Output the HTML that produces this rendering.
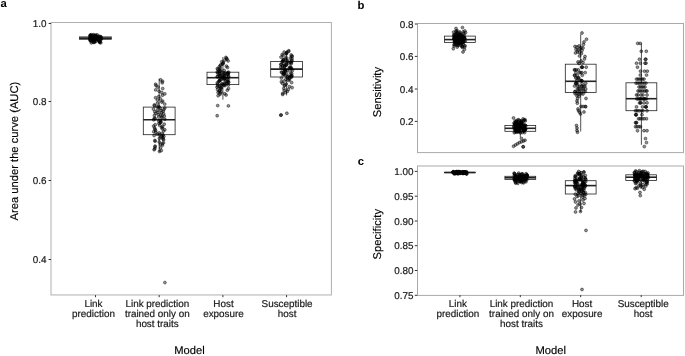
<!DOCTYPE html>
<html><head><meta charset="utf-8"><title>Figure</title>
<style>
html,body{margin:0;padding:0;background:#fff;}
svg{display:block;text-rendering:geometricPrecision;filter:grayscale(1);font-family:"Liberation Sans",Arial,Helvetica,sans-serif;}
.pb{fill:none;stroke:#a9a9a9;stroke-width:1;}
.pa{stroke:#b0b0b0;}
.tk{font-size:9.9px;fill:#1a1a1a;stroke:#1a1a1a;stroke-width:0.2px;}
.ti{font-size:11.2px;fill:#000;stroke:#000;stroke-width:0.15px;}
.pl{font-size:11.3px;font-weight:bold;fill:#000;}
.ticks line{stroke:#333;stroke-width:1;}
.boxes rect{fill:none;stroke:#222;stroke-width:0.8;}
.boxes line{stroke:#222;stroke-width:0.8;}
.boxes line.med{stroke-width:1.6;}
.pts circle{fill:rgba(0,0,0,0.42);stroke:rgba(0,0,0,0.75);stroke-width:0.6;}
</style></head>
<body>
<svg width="685" height="356" viewBox="0 0 685 356">
<rect width="685" height="356" fill="#fff"/>
<g class="panels"><rect class="pb pa" x="51.0" y="22.5" width="280.4" height="272.45"/><rect class="pb" x="417.5" y="23.5" width="266.0" height="129.1"/><rect class="pb" x="417.5" y="166.0" width="266.0" height="129.39999999999998"/></g>
<g class="ticks"><line x1="48.6" y1="23.5" x2="51.1" y2="23.5"/><line x1="48.6" y1="101.5" x2="51.1" y2="101.5"/><line x1="48.6" y1="180.5" x2="51.1" y2="180.5"/><line x1="48.6" y1="259.5" x2="51.1" y2="259.5"/><line x1="414.8" y1="24.0" x2="417.3" y2="24.0"/><line x1="414.8" y1="56.4" x2="417.3" y2="56.4"/><line x1="414.8" y1="89.0" x2="417.3" y2="89.0"/><line x1="414.8" y1="121.4" x2="417.3" y2="121.4"/><line x1="414.8" y1="171.4" x2="417.3" y2="171.4"/><line x1="414.8" y1="196.2" x2="417.3" y2="196.2"/><line x1="414.8" y1="221.0" x2="417.3" y2="221.0"/><line x1="414.8" y1="245.7" x2="417.3" y2="245.7"/><line x1="414.8" y1="270.5" x2="417.3" y2="270.5"/><line x1="414.8" y1="295.3" x2="417.3" y2="295.3"/><line x1="95.5" y1="295.1" x2="95.5" y2="297.2"/><line x1="159.2" y1="295.1" x2="159.2" y2="297.2"/><line x1="222.9" y1="295.1" x2="222.9" y2="297.2"/><line x1="286.6" y1="295.1" x2="286.6" y2="297.2"/><line x1="459.9" y1="295.1" x2="459.9" y2="297.2"/><line x1="520.3" y1="295.1" x2="520.3" y2="297.2"/><line x1="580.7" y1="295.1" x2="580.7" y2="297.2"/><line x1="641.2" y1="295.1" x2="641.2" y2="297.2"/></g>
<g class="boxes"><line x1="95.5" y1="36.0" x2="95.5" y2="36.9"/><line x1="95.5" y1="39.3" x2="95.5" y2="41.0"/><rect x="79.5" y="36.9" width="31.8" height="2.4"/><line class="med" x1="79.5" y1="38.1" x2="111.3" y2="38.1"/><line x1="159.2" y1="79.0" x2="159.2" y2="107.1"/><line x1="159.2" y1="134.7" x2="159.2" y2="152.0"/><rect x="143.3" y="107.1" width="31.8" height="27.6"/><line class="med" x1="143.3" y1="119.8" x2="175.1" y2="119.8"/><line x1="222.9" y1="57.0" x2="222.9" y2="72.2"/><line x1="222.9" y1="84.6" x2="222.9" y2="99.7"/><rect x="207.0" y="72.2" width="31.8" height="12.4"/><line class="med" x1="207.0" y1="77.7" x2="238.8" y2="77.7"/><line x1="286.6" y1="50.5" x2="286.6" y2="61.5"/><line x1="286.6" y1="77.0" x2="286.6" y2="95.4"/><rect x="270.7" y="61.5" width="31.8" height="15.5"/><line class="med" x1="270.7" y1="69.1" x2="302.5" y2="69.1"/><line x1="459.9" y1="30.0" x2="459.9" y2="36.1"/><line x1="459.9" y1="42.4" x2="459.9" y2="47.0"/><rect x="444.5" y="36.1" width="30.8" height="6.3"/><line class="med" x1="444.5" y1="39.6" x2="475.3" y2="39.6"/><line x1="520.3" y1="119.0" x2="520.3" y2="125.4"/><line x1="520.3" y1="131.3" x2="520.3" y2="137.3"/><rect x="504.9" y="125.4" width="30.8" height="5.9"/><line class="med" x1="504.9" y1="128.3" x2="535.7" y2="128.3"/><line x1="580.7" y1="34.3" x2="580.7" y2="64.2"/><line x1="580.7" y1="92.5" x2="580.7" y2="131.5"/><rect x="565.3" y="64.2" width="30.8" height="28.3"/><line class="med" x1="565.3" y1="81.3" x2="596.1" y2="81.3"/><line x1="641.4" y1="43.3" x2="641.4" y2="82.8"/><line x1="641.4" y1="110.7" x2="641.4" y2="144.8"/><rect x="626.0" y="82.8" width="30.8" height="27.9"/><line class="med" x1="626.0" y1="98.7" x2="656.8" y2="98.7"/><line x1="459.9" y1="172.2" x2="459.9" y2="172.3"/><line x1="459.9" y1="172.7" x2="459.9" y2="172.8"/><rect x="444.5" y="172.3" width="30.8" height="0.4"/><line class="med" x1="444.5" y1="172.5" x2="475.3" y2="172.5"/><line x1="520.3" y1="173.0" x2="520.3" y2="176.3"/><line x1="520.3" y1="179.5" x2="520.3" y2="183.0"/><rect x="504.9" y="176.3" width="30.8" height="3.2"/><line class="med" x1="504.9" y1="177.8" x2="535.7" y2="177.8"/><line x1="580.7" y1="171.0" x2="580.7" y2="180.7"/><line x1="580.7" y1="194.0" x2="580.7" y2="211.9"/><rect x="565.3" y="180.7" width="30.8" height="13.3"/><line class="med" x1="565.3" y1="185.6" x2="596.1" y2="185.6"/><line x1="641.2" y1="170.6" x2="641.2" y2="174.8"/><line x1="641.2" y1="180.5" x2="641.2" y2="189.0"/><rect x="625.8" y="174.8" width="30.8" height="5.7"/><line class="med" x1="625.8" y1="177.2" x2="656.6" y2="177.2"/></g>
<g class="pts"><circle cx="96.3" cy="38.1" r="1.45"/><circle cx="95.7" cy="38.2" r="1.45"/><circle cx="92.0" cy="37.7" r="1.45"/><circle cx="94.6" cy="37.8" r="1.45"/><circle cx="96.0" cy="37.6" r="1.45"/><circle cx="97.2" cy="34.9" r="1.45"/><circle cx="100.6" cy="36.7" r="1.45"/><circle cx="95.0" cy="39.9" r="1.45"/><circle cx="98.1" cy="38.2" r="1.45"/><circle cx="91.1" cy="36.3" r="1.45"/><circle cx="90.3" cy="40.2" r="1.45"/><circle cx="99.1" cy="37.4" r="1.45"/><circle cx="99.8" cy="41.0" r="1.45"/><circle cx="91.0" cy="37.3" r="1.45"/><circle cx="94.6" cy="36.1" r="1.45"/><circle cx="96.5" cy="38.9" r="1.45"/><circle cx="96.0" cy="41.4" r="1.45"/><circle cx="90.7" cy="36.0" r="1.45"/><circle cx="90.4" cy="39.2" r="1.45"/><circle cx="94.2" cy="40.8" r="1.45"/><circle cx="97.4" cy="38.6" r="1.45"/><circle cx="97.8" cy="38.0" r="1.45"/><circle cx="96.4" cy="38.9" r="1.45"/><circle cx="98.9" cy="38.0" r="1.45"/><circle cx="92.2" cy="36.5" r="1.45"/><circle cx="99.4" cy="39.0" r="1.45"/><circle cx="91.7" cy="37.4" r="1.45"/><circle cx="90.5" cy="35.9" r="1.45"/><circle cx="92.5" cy="38.1" r="1.45"/><circle cx="96.3" cy="38.7" r="1.45"/><circle cx="93.0" cy="38.3" r="1.45"/><circle cx="93.9" cy="35.3" r="1.45"/><circle cx="100.8" cy="42.7" r="1.45"/><circle cx="91.4" cy="38.5" r="1.45"/><circle cx="93.8" cy="42.4" r="1.45"/><circle cx="94.5" cy="42.2" r="1.45"/><circle cx="94.0" cy="37.6" r="1.45"/><circle cx="93.1" cy="38.0" r="1.45"/><circle cx="99.7" cy="41.9" r="1.45"/><circle cx="97.1" cy="37.5" r="1.45"/><circle cx="94.5" cy="38.4" r="1.45"/><circle cx="99.8" cy="38.8" r="1.45"/><circle cx="91.4" cy="42.9" r="1.45"/><circle cx="91.6" cy="40.0" r="1.45"/><circle cx="91.0" cy="40.1" r="1.45"/><circle cx="95.3" cy="38.5" r="1.45"/><circle cx="100.6" cy="39.1" r="1.45"/><circle cx="97.4" cy="39.2" r="1.45"/><circle cx="94.1" cy="39.5" r="1.45"/><circle cx="95.9" cy="35.2" r="1.45"/><circle cx="92.9" cy="42.1" r="1.45"/><circle cx="96.4" cy="37.9" r="1.45"/><circle cx="99.9" cy="41.6" r="1.45"/><circle cx="97.4" cy="39.6" r="1.45"/><circle cx="90.3" cy="37.7" r="1.45"/><circle cx="94.7" cy="35.8" r="1.45"/><circle cx="94.9" cy="41.3" r="1.45"/><circle cx="90.6" cy="41.1" r="1.45"/><circle cx="98.6" cy="40.4" r="1.45"/><circle cx="90.5" cy="35.0" r="1.45"/><circle cx="93.3" cy="37.8" r="1.45"/><circle cx="90.2" cy="37.0" r="1.45"/><circle cx="92.5" cy="40.7" r="1.45"/><circle cx="101.0" cy="37.0" r="1.45"/><circle cx="90.1" cy="38.6" r="1.45"/><circle cx="93.2" cy="37.4" r="1.45"/><circle cx="90.1" cy="35.7" r="1.45"/><circle cx="91.3" cy="37.3" r="1.45"/><circle cx="95.5" cy="35.5" r="1.45"/><circle cx="101.2" cy="39.3" r="1.45"/><circle cx="93.3" cy="38.8" r="1.45"/><circle cx="99.2" cy="36.2" r="1.45"/><circle cx="99.2" cy="39.4" r="1.45"/><circle cx="91.0" cy="38.4" r="1.45"/><circle cx="99.2" cy="41.7" r="1.45"/><circle cx="101.0" cy="38.3" r="1.45"/><circle cx="97.8" cy="39.2" r="1.45"/><circle cx="98.5" cy="38.7" r="1.45"/><circle cx="90.3" cy="35.4" r="1.45"/><circle cx="94.9" cy="39.0" r="1.45"/><circle cx="96.9" cy="36.6" r="1.45"/><circle cx="94.9" cy="37.9" r="1.45"/><circle cx="97.2" cy="39.3" r="1.45"/><circle cx="89.9" cy="39.7" r="1.45"/><circle cx="99.8" cy="38.2" r="1.45"/><circle cx="95.1" cy="39.1" r="1.45"/><circle cx="98.4" cy="38.5" r="1.45"/><circle cx="96.3" cy="36.8" r="1.45"/><circle cx="93.4" cy="34.7" r="1.45"/><circle cx="97.5" cy="37.8" r="1.45"/><circle cx="90.4" cy="37.6" r="1.45"/><circle cx="93.0" cy="37.2" r="1.45"/><circle cx="93.0" cy="39.4" r="1.45"/><circle cx="97.7" cy="38.8" r="1.45"/><circle cx="91.4" cy="34.8" r="1.45"/><circle cx="99.9" cy="42.6" r="1.45"/><circle cx="91.2" cy="40.5" r="1.45"/><circle cx="96.4" cy="37.5" r="1.45"/><circle cx="94.3" cy="36.9" r="1.45"/><circle cx="99.6" cy="37.1" r="1.45"/><circle cx="153.7" cy="119.8" r="1.45"/><circle cx="158.8" cy="121.1" r="1.45"/><circle cx="155.0" cy="147.0" r="1.45"/><circle cx="161.8" cy="127.3" r="1.45"/><circle cx="162.4" cy="145.3" r="1.45"/><circle cx="163.7" cy="113.9" r="1.45"/><circle cx="162.6" cy="126.7" r="1.45"/><circle cx="164.3" cy="116.1" r="1.45"/><circle cx="155.1" cy="141.2" r="1.45"/><circle cx="155.2" cy="124.8" r="1.45"/><circle cx="162.5" cy="81.3" r="1.45"/><circle cx="157.4" cy="103.2" r="1.45"/><circle cx="158.9" cy="123.6" r="1.45"/><circle cx="162.0" cy="117.7" r="1.45"/><circle cx="164.9" cy="119.3" r="1.45"/><circle cx="154.6" cy="105.8" r="1.45"/><circle cx="160.4" cy="144.4" r="1.45"/><circle cx="158.8" cy="106.5" r="1.45"/><circle cx="161.0" cy="121.7" r="1.45"/><circle cx="161.6" cy="112.8" r="1.45"/><circle cx="164.8" cy="129.8" r="1.45"/><circle cx="155.0" cy="129.2" r="1.45"/><circle cx="160.5" cy="79.8" r="1.45"/><circle cx="154.8" cy="111.8" r="1.45"/><circle cx="154.4" cy="118.2" r="1.45"/><circle cx="162.2" cy="82.8" r="1.45"/><circle cx="160.8" cy="110.7" r="1.45"/><circle cx="162.5" cy="95.2" r="1.45"/><circle cx="160.7" cy="115.0" r="1.45"/><circle cx="160.3" cy="122.9" r="1.45"/><circle cx="155.8" cy="132.3" r="1.45"/><circle cx="158.4" cy="114.5" r="1.45"/><circle cx="164.2" cy="124.2" r="1.45"/><circle cx="162.0" cy="136.0" r="1.45"/><circle cx="154.4" cy="115.5" r="1.45"/><circle cx="164.8" cy="93.9" r="1.45"/><circle cx="159.3" cy="142.0" r="1.45"/><circle cx="154.6" cy="128.0" r="1.45"/><circle cx="162.7" cy="88.6" r="1.45"/><circle cx="160.4" cy="98.9" r="1.45"/><circle cx="157.4" cy="110.2" r="1.45"/><circle cx="154.9" cy="140.5" r="1.45"/><circle cx="162.7" cy="101.1" r="1.45"/><circle cx="160.2" cy="120.4" r="1.45"/><circle cx="157.3" cy="107.0" r="1.45"/><circle cx="160.5" cy="122.3" r="1.45"/><circle cx="163.0" cy="139.1" r="1.45"/><circle cx="155.2" cy="118.7" r="1.45"/><circle cx="161.8" cy="92.6" r="1.45"/><circle cx="157.2" cy="134.2" r="1.45"/><circle cx="164.7" cy="104.1" r="1.45"/><circle cx="163.6" cy="139.8" r="1.45"/><circle cx="161.3" cy="150.6" r="1.45"/><circle cx="162.2" cy="133.6" r="1.45"/><circle cx="153.4" cy="109.1" r="1.45"/><circle cx="157.4" cy="100.0" r="1.45"/><circle cx="158.7" cy="117.1" r="1.45"/><circle cx="156.1" cy="85.7" r="1.45"/><circle cx="154.3" cy="105.0" r="1.45"/><circle cx="163.9" cy="109.6" r="1.45"/><circle cx="163.0" cy="135.1" r="1.45"/><circle cx="154.8" cy="148.8" r="1.45"/><circle cx="160.4" cy="108.6" r="1.45"/><circle cx="161.8" cy="102.1" r="1.45"/><circle cx="154.1" cy="135.5" r="1.45"/><circle cx="163.8" cy="136.5" r="1.45"/><circle cx="157.9" cy="112.3" r="1.45"/><circle cx="153.7" cy="131.7" r="1.45"/><circle cx="160.6" cy="147.9" r="1.45"/><circle cx="162.8" cy="137.8" r="1.45"/><circle cx="159.5" cy="151.5" r="1.45"/><circle cx="159.2" cy="133.0" r="1.45"/><circle cx="161.1" cy="137.1" r="1.45"/><circle cx="163.5" cy="142.8" r="1.45"/><circle cx="155.1" cy="146.1" r="1.45"/><circle cx="164.8" cy="108.0" r="1.45"/><circle cx="163.5" cy="131.1" r="1.45"/><circle cx="162.4" cy="143.6" r="1.45"/><circle cx="159.4" cy="138.4" r="1.45"/><circle cx="161.7" cy="116.6" r="1.45"/><circle cx="159.7" cy="125.4" r="1.45"/><circle cx="159.1" cy="91.3" r="1.45"/><circle cx="155.6" cy="84.3" r="1.45"/><circle cx="154.1" cy="149.7" r="1.45"/><circle cx="153.6" cy="126.1" r="1.45"/><circle cx="155.6" cy="130.5" r="1.45"/><circle cx="158.8" cy="96.5" r="1.45"/><circle cx="158.0" cy="87.1" r="1.45"/><circle cx="155.7" cy="113.4" r="1.45"/><circle cx="159.0" cy="107.5" r="1.45"/><circle cx="163.1" cy="111.2" r="1.45"/><circle cx="155.7" cy="89.9" r="1.45"/><circle cx="159.7" cy="134.7" r="1.45"/><circle cx="155.6" cy="97.7" r="1.45"/><circle cx="162.1" cy="128.6" r="1.45"/><circle cx="164.9" cy="282.6" r="1.45"/><circle cx="228.4" cy="85.0" r="1.45"/><circle cx="217.5" cy="76.5" r="1.45"/><circle cx="217.2" cy="72.0" r="1.45"/><circle cx="225.5" cy="81.5" r="1.45"/><circle cx="222.1" cy="83.8" r="1.45"/><circle cx="217.6" cy="73.1" r="1.45"/><circle cx="223.4" cy="79.2" r="1.45"/><circle cx="219.9" cy="77.7" r="1.45"/><circle cx="220.2" cy="86.8" r="1.45"/><circle cx="224.7" cy="93.7" r="1.45"/><circle cx="227.5" cy="67.5" r="1.45"/><circle cx="218.1" cy="95.7" r="1.45"/><circle cx="217.1" cy="87.2" r="1.45"/><circle cx="227.7" cy="72.6" r="1.45"/><circle cx="219.6" cy="90.7" r="1.45"/><circle cx="222.3" cy="75.4" r="1.45"/><circle cx="218.5" cy="71.6" r="1.45"/><circle cx="224.8" cy="84.4" r="1.45"/><circle cx="218.1" cy="92.5" r="1.45"/><circle cx="220.9" cy="64.8" r="1.45"/><circle cx="224.3" cy="72.8" r="1.45"/><circle cx="218.7" cy="81.8" r="1.45"/><circle cx="219.2" cy="66.9" r="1.45"/><circle cx="228.4" cy="77.2" r="1.45"/><circle cx="220.2" cy="68.1" r="1.45"/><circle cx="220.2" cy="71.3" r="1.45"/><circle cx="220.7" cy="80.0" r="1.45"/><circle cx="223.1" cy="63.3" r="1.45"/><circle cx="219.8" cy="80.6" r="1.45"/><circle cx="219.6" cy="80.3" r="1.45"/><circle cx="219.4" cy="80.9" r="1.45"/><circle cx="223.1" cy="77.5" r="1.45"/><circle cx="220.2" cy="75.8" r="1.45"/><circle cx="228.5" cy="88.6" r="1.45"/><circle cx="223.0" cy="77.0" r="1.45"/><circle cx="228.3" cy="73.8" r="1.45"/><circle cx="219.2" cy="86.4" r="1.45"/><circle cx="227.9" cy="74.5" r="1.45"/><circle cx="223.0" cy="84.8" r="1.45"/><circle cx="222.3" cy="78.0" r="1.45"/><circle cx="219.2" cy="74.2" r="1.45"/><circle cx="228.1" cy="60.9" r="1.45"/><circle cx="224.3" cy="83.2" r="1.45"/><circle cx="225.9" cy="57.4" r="1.45"/><circle cx="218.1" cy="69.3" r="1.45"/><circle cx="220.1" cy="74.0" r="1.45"/><circle cx="217.3" cy="68.7" r="1.45"/><circle cx="217.3" cy="76.8" r="1.45"/><circle cx="224.4" cy="74.7" r="1.45"/><circle cx="220.0" cy="94.4" r="1.45"/><circle cx="228.6" cy="82.1" r="1.45"/><circle cx="227.3" cy="81.2" r="1.45"/><circle cx="224.9" cy="60.0" r="1.45"/><circle cx="223.3" cy="74.9" r="1.45"/><circle cx="225.3" cy="73.3" r="1.45"/><circle cx="227.4" cy="79.4" r="1.45"/><circle cx="221.9" cy="72.4" r="1.45"/><circle cx="223.3" cy="62.5" r="1.45"/><circle cx="228.6" cy="72.2" r="1.45"/><circle cx="226.4" cy="76.1" r="1.45"/><circle cx="222.8" cy="64.0" r="1.45"/><circle cx="221.5" cy="84.6" r="1.45"/><circle cx="226.6" cy="58.3" r="1.45"/><circle cx="220.8" cy="89.1" r="1.45"/><circle cx="217.5" cy="89.6" r="1.45"/><circle cx="221.0" cy="91.9" r="1.45"/><circle cx="217.7" cy="84.1" r="1.45"/><circle cx="220.9" cy="88.1" r="1.45"/><circle cx="220.1" cy="69.9" r="1.45"/><circle cx="226.8" cy="82.6" r="1.45"/><circle cx="228.3" cy="79.7" r="1.45"/><circle cx="217.3" cy="82.9" r="1.45"/><circle cx="220.3" cy="93.1" r="1.45"/><circle cx="226.1" cy="95.0" r="1.45"/><circle cx="219.5" cy="75.2" r="1.45"/><circle cx="227.3" cy="90.2" r="1.45"/><circle cx="228.5" cy="82.3" r="1.45"/><circle cx="228.6" cy="76.3" r="1.45"/><circle cx="224.7" cy="78.3" r="1.45"/><circle cx="217.6" cy="86.0" r="1.45"/><circle cx="219.7" cy="70.8" r="1.45"/><circle cx="227.3" cy="83.5" r="1.45"/><circle cx="224.0" cy="85.3" r="1.45"/><circle cx="220.3" cy="65.5" r="1.45"/><circle cx="228.0" cy="73.5" r="1.45"/><circle cx="221.3" cy="87.6" r="1.45"/><circle cx="219.2" cy="91.3" r="1.45"/><circle cx="224.9" cy="75.6" r="1.45"/><circle cx="226.9" cy="59.2" r="1.45"/><circle cx="224.6" cy="78.6" r="1.45"/><circle cx="221.8" cy="61.7" r="1.45"/><circle cx="225.1" cy="85.6" r="1.45"/><circle cx="224.7" cy="78.9" r="1.45"/><circle cx="224.1" cy="70.4" r="1.45"/><circle cx="226.4" cy="66.2" r="1.45"/><circle cx="217.7" cy="105.6" r="1.45"/><circle cx="228.4" cy="105.9" r="1.45"/><circle cx="217.2" cy="115.7" r="1.45"/><circle cx="292.1" cy="87.6" r="1.45"/><circle cx="284.5" cy="66.5" r="1.45"/><circle cx="282.2" cy="54.5" r="1.45"/><circle cx="291.7" cy="56.6" r="1.45"/><circle cx="282.2" cy="68.1" r="1.45"/><circle cx="290.2" cy="76.1" r="1.45"/><circle cx="291.9" cy="75.4" r="1.45"/><circle cx="289.5" cy="79.8" r="1.45"/><circle cx="292.4" cy="70.4" r="1.45"/><circle cx="289.1" cy="68.8" r="1.45"/><circle cx="281.4" cy="78.1" r="1.45"/><circle cx="292.2" cy="56.1" r="1.45"/><circle cx="281.4" cy="81.8" r="1.45"/><circle cx="291.8" cy="60.2" r="1.45"/><circle cx="286.1" cy="57.6" r="1.45"/><circle cx="282.8" cy="93.4" r="1.45"/><circle cx="291.1" cy="75.8" r="1.45"/><circle cx="283.9" cy="74.1" r="1.45"/><circle cx="284.8" cy="66.2" r="1.45"/><circle cx="290.5" cy="72.8" r="1.45"/><circle cx="287.6" cy="60.8" r="1.45"/><circle cx="282.4" cy="65.9" r="1.45"/><circle cx="282.5" cy="61.1" r="1.45"/><circle cx="283.9" cy="59.4" r="1.45"/><circle cx="284.0" cy="71.8" r="1.45"/><circle cx="285.0" cy="71.1" r="1.45"/><circle cx="286.0" cy="65.3" r="1.45"/><circle cx="283.7" cy="73.8" r="1.45"/><circle cx="289.4" cy="86.7" r="1.45"/><circle cx="291.2" cy="55.0" r="1.45"/><circle cx="292.0" cy="58.6" r="1.45"/><circle cx="283.5" cy="63.3" r="1.45"/><circle cx="291.6" cy="68.5" r="1.45"/><circle cx="286.2" cy="53.3" r="1.45"/><circle cx="288.8" cy="50.8" r="1.45"/><circle cx="291.7" cy="73.4" r="1.45"/><circle cx="289.3" cy="78.6" r="1.45"/><circle cx="283.8" cy="88.5" r="1.45"/><circle cx="284.8" cy="85.0" r="1.45"/><circle cx="281.4" cy="72.1" r="1.45"/><circle cx="288.6" cy="51.5" r="1.45"/><circle cx="283.3" cy="60.5" r="1.45"/><circle cx="291.1" cy="62.7" r="1.45"/><circle cx="284.3" cy="90.4" r="1.45"/><circle cx="280.8" cy="67.2" r="1.45"/><circle cx="288.3" cy="80.4" r="1.45"/><circle cx="286.3" cy="84.1" r="1.45"/><circle cx="286.0" cy="59.0" r="1.45"/><circle cx="284.1" cy="73.1" r="1.45"/><circle cx="286.2" cy="53.9" r="1.45"/><circle cx="290.3" cy="58.1" r="1.45"/><circle cx="285.4" cy="70.1" r="1.45"/><circle cx="286.0" cy="79.2" r="1.45"/><circle cx="289.2" cy="77.7" r="1.45"/><circle cx="281.1" cy="64.3" r="1.45"/><circle cx="285.4" cy="92.4" r="1.45"/><circle cx="283.1" cy="55.6" r="1.45"/><circle cx="291.9" cy="61.5" r="1.45"/><circle cx="284.3" cy="65.6" r="1.45"/><circle cx="284.3" cy="85.8" r="1.45"/><circle cx="282.3" cy="83.3" r="1.45"/><circle cx="286.8" cy="52.7" r="1.45"/><circle cx="285.1" cy="75.1" r="1.45"/><circle cx="284.1" cy="81.1" r="1.45"/><circle cx="286.5" cy="64.9" r="1.45"/><circle cx="284.2" cy="69.4" r="1.45"/><circle cx="282.7" cy="94.5" r="1.45"/><circle cx="288.1" cy="76.4" r="1.45"/><circle cx="285.1" cy="69.8" r="1.45"/><circle cx="287.6" cy="70.8" r="1.45"/><circle cx="284.2" cy="52.1" r="1.45"/><circle cx="290.3" cy="62.1" r="1.45"/><circle cx="287.2" cy="77.3" r="1.45"/><circle cx="280.9" cy="64.6" r="1.45"/><circle cx="291.3" cy="69.1" r="1.45"/><circle cx="291.2" cy="63.7" r="1.45"/><circle cx="290.6" cy="66.9" r="1.45"/><circle cx="291.6" cy="82.6" r="1.45"/><circle cx="291.7" cy="77.0" r="1.45"/><circle cx="290.5" cy="67.8" r="1.45"/><circle cx="286.9" cy="61.3" r="1.45"/><circle cx="281.0" cy="57.1" r="1.45"/><circle cx="286.4" cy="64.0" r="1.45"/><circle cx="282.3" cy="61.7" r="1.45"/><circle cx="287.3" cy="91.4" r="1.45"/><circle cx="283.2" cy="59.8" r="1.45"/><circle cx="285.8" cy="71.4" r="1.45"/><circle cx="288.4" cy="89.4" r="1.45"/><circle cx="289.5" cy="67.5" r="1.45"/><circle cx="282.0" cy="72.4" r="1.45"/><circle cx="289.0" cy="63.0" r="1.45"/><circle cx="291.4" cy="76.8" r="1.45"/><circle cx="286.7" cy="74.4" r="1.45"/><circle cx="283.0" cy="74.8" r="1.45"/><circle cx="286.7" cy="62.4" r="1.45"/><circle cx="280.7" cy="115.2" r="1.45"/><circle cx="281.2" cy="115.0" r="1.45"/><circle cx="286.9" cy="113.3" r="1.45"/><circle cx="454.3" cy="44.3" r="1.45"/><circle cx="458.2" cy="41.8" r="1.45"/><circle cx="458.0" cy="36.1" r="1.45"/><circle cx="453.9" cy="38.8" r="1.45"/><circle cx="454.7" cy="42.2" r="1.45"/><circle cx="456.3" cy="35.9" r="1.45"/><circle cx="459.3" cy="42.9" r="1.45"/><circle cx="457.5" cy="42.6" r="1.45"/><circle cx="457.6" cy="45.5" r="1.45"/><circle cx="454.9" cy="41.0" r="1.45"/><circle cx="461.2" cy="43.0" r="1.45"/><circle cx="455.9" cy="44.6" r="1.45"/><circle cx="462.2" cy="36.3" r="1.45"/><circle cx="457.2" cy="30.7" r="1.45"/><circle cx="462.1" cy="39.5" r="1.45"/><circle cx="458.0" cy="45.2" r="1.45"/><circle cx="458.6" cy="39.0" r="1.45"/><circle cx="462.6" cy="46.3" r="1.45"/><circle cx="454.6" cy="35.7" r="1.45"/><circle cx="462.3" cy="40.6" r="1.45"/><circle cx="455.9" cy="42.3" r="1.45"/><circle cx="459.0" cy="42.5" r="1.45"/><circle cx="458.6" cy="41.3" r="1.45"/><circle cx="456.0" cy="37.1" r="1.45"/><circle cx="455.9" cy="31.3" r="1.45"/><circle cx="457.3" cy="42.0" r="1.45"/><circle cx="460.9" cy="45.0" r="1.45"/><circle cx="459.0" cy="39.4" r="1.45"/><circle cx="459.9" cy="40.2" r="1.45"/><circle cx="454.5" cy="41.1" r="1.45"/><circle cx="464.4" cy="38.1" r="1.45"/><circle cx="458.5" cy="43.5" r="1.45"/><circle cx="457.3" cy="40.5" r="1.45"/><circle cx="454.3" cy="38.4" r="1.45"/><circle cx="463.2" cy="44.1" r="1.45"/><circle cx="459.9" cy="34.0" r="1.45"/><circle cx="455.9" cy="37.4" r="1.45"/><circle cx="458.1" cy="43.7" r="1.45"/><circle cx="461.1" cy="43.4" r="1.45"/><circle cx="463.7" cy="40.7" r="1.45"/><circle cx="462.8" cy="37.2" r="1.45"/><circle cx="454.3" cy="35.0" r="1.45"/><circle cx="460.7" cy="38.5" r="1.45"/><circle cx="455.9" cy="35.2" r="1.45"/><circle cx="465.6" cy="32.7" r="1.45"/><circle cx="461.1" cy="37.9" r="1.45"/><circle cx="459.5" cy="37.0" r="1.45"/><circle cx="458.5" cy="34.6" r="1.45"/><circle cx="460.9" cy="38.0" r="1.45"/><circle cx="455.9" cy="40.0" r="1.45"/><circle cx="454.1" cy="46.0" r="1.45"/><circle cx="462.1" cy="42.2" r="1.45"/><circle cx="454.6" cy="41.2" r="1.45"/><circle cx="454.0" cy="34.4" r="1.45"/><circle cx="456.5" cy="33.7" r="1.45"/><circle cx="457.9" cy="36.4" r="1.45"/><circle cx="459.4" cy="38.2" r="1.45"/><circle cx="464.2" cy="41.4" r="1.45"/><circle cx="461.9" cy="36.3" r="1.45"/><circle cx="460.0" cy="32.4" r="1.45"/><circle cx="462.8" cy="41.9" r="1.45"/><circle cx="453.6" cy="32.1" r="1.45"/><circle cx="456.8" cy="37.6" r="1.45"/><circle cx="454.4" cy="36.9" r="1.45"/><circle cx="457.4" cy="33.2" r="1.45"/><circle cx="457.2" cy="47.1" r="1.45"/><circle cx="462.1" cy="39.1" r="1.45"/><circle cx="464.7" cy="46.8" r="1.45"/><circle cx="460.1" cy="42.4" r="1.45"/><circle cx="465.4" cy="40.8" r="1.45"/><circle cx="458.9" cy="40.9" r="1.45"/><circle cx="455.6" cy="39.9" r="1.45"/><circle cx="463.1" cy="31.9" r="1.45"/><circle cx="461.9" cy="46.5" r="1.45"/><circle cx="460.8" cy="38.9" r="1.45"/><circle cx="457.1" cy="36.7" r="1.45"/><circle cx="461.4" cy="35.6" r="1.45"/><circle cx="454.3" cy="38.7" r="1.45"/><circle cx="459.5" cy="36.2" r="1.45"/><circle cx="459.2" cy="40.3" r="1.45"/><circle cx="463.7" cy="33.5" r="1.45"/><circle cx="462.3" cy="47.4" r="1.45"/><circle cx="464.5" cy="38.3" r="1.45"/><circle cx="457.4" cy="39.6" r="1.45"/><circle cx="464.3" cy="37.7" r="1.45"/><circle cx="454.9" cy="37.8" r="1.45"/><circle cx="453.7" cy="36.6" r="1.45"/><circle cx="462.7" cy="41.7" r="1.45"/><circle cx="464.2" cy="35.4" r="1.45"/><circle cx="462.4" cy="42.7" r="1.45"/><circle cx="459.2" cy="37.5" r="1.45"/><circle cx="464.9" cy="31.0" r="1.45"/><circle cx="458.7" cy="36.0" r="1.45"/><circle cx="459.2" cy="43.9" r="1.45"/><circle cx="461.4" cy="34.8" r="1.45"/><circle cx="461.4" cy="40.1" r="1.45"/><circle cx="455.8" cy="39.3" r="1.45"/><circle cx="463.7" cy="36.8" r="1.45"/><circle cx="464.7" cy="38.6" r="1.45"/><circle cx="454.4" cy="44.8" r="1.45"/><circle cx="455.0" cy="39.7" r="1.45"/><circle cx="456.6" cy="43.2" r="1.45"/><circle cx="454.6" cy="39.8" r="1.45"/><circle cx="460.2" cy="34.2" r="1.45"/><circle cx="458.4" cy="36.5" r="1.45"/><circle cx="456.7" cy="31.6" r="1.45"/><circle cx="456.9" cy="33.0" r="1.45"/><circle cx="463.2" cy="42.1" r="1.45"/><circle cx="465.0" cy="45.7" r="1.45"/><circle cx="460.3" cy="41.5" r="1.45"/><circle cx="462.5" cy="27.6" r="1.45"/><circle cx="453.3" cy="48.7" r="1.45"/><circle cx="463.0" cy="52.0" r="1.45"/><circle cx="456.0" cy="28.5" r="1.45"/><circle cx="464.5" cy="49.5" r="1.45"/><circle cx="525.3" cy="125.2" r="1.45"/><circle cx="517.2" cy="128.4" r="1.45"/><circle cx="525.4" cy="129.1" r="1.45"/><circle cx="516.4" cy="131.4" r="1.45"/><circle cx="524.9" cy="128.6" r="1.45"/><circle cx="516.3" cy="122.9" r="1.45"/><circle cx="520.6" cy="132.9" r="1.45"/><circle cx="523.2" cy="130.5" r="1.45"/><circle cx="517.5" cy="125.0" r="1.45"/><circle cx="520.4" cy="124.3" r="1.45"/><circle cx="525.8" cy="125.8" r="1.45"/><circle cx="522.2" cy="124.7" r="1.45"/><circle cx="516.0" cy="131.2" r="1.45"/><circle cx="515.3" cy="129.3" r="1.45"/><circle cx="521.3" cy="121.5" r="1.45"/><circle cx="525.2" cy="120.9" r="1.45"/><circle cx="515.3" cy="132.0" r="1.45"/><circle cx="519.9" cy="128.1" r="1.45"/><circle cx="516.0" cy="123.5" r="1.45"/><circle cx="517.6" cy="125.3" r="1.45"/><circle cx="518.7" cy="124.8" r="1.45"/><circle cx="520.4" cy="123.9" r="1.45"/><circle cx="521.3" cy="127.9" r="1.45"/><circle cx="523.7" cy="130.2" r="1.45"/><circle cx="518.2" cy="125.9" r="1.45"/><circle cx="517.2" cy="124.9" r="1.45"/><circle cx="516.8" cy="132.2" r="1.45"/><circle cx="517.7" cy="123.2" r="1.45"/><circle cx="518.2" cy="121.9" r="1.45"/><circle cx="514.6" cy="124.0" r="1.45"/><circle cx="518.7" cy="126.8" r="1.45"/><circle cx="516.9" cy="122.4" r="1.45"/><circle cx="516.4" cy="121.7" r="1.45"/><circle cx="514.0" cy="123.1" r="1.45"/><circle cx="524.0" cy="130.9" r="1.45"/><circle cx="519.7" cy="128.8" r="1.45"/><circle cx="515.5" cy="122.1" r="1.45"/><circle cx="515.1" cy="121.1" r="1.45"/><circle cx="524.6" cy="132.6" r="1.45"/><circle cx="518.3" cy="119.8" r="1.45"/><circle cx="518.9" cy="126.6" r="1.45"/><circle cx="523.4" cy="123.8" r="1.45"/><circle cx="516.2" cy="126.0" r="1.45"/><circle cx="519.2" cy="120.3" r="1.45"/><circle cx="521.3" cy="130.1" r="1.45"/><circle cx="515.8" cy="127.2" r="1.45"/><circle cx="513.9" cy="126.3" r="1.45"/><circle cx="522.0" cy="123.3" r="1.45"/><circle cx="522.6" cy="126.1" r="1.45"/><circle cx="516.2" cy="129.2" r="1.45"/><circle cx="524.9" cy="129.8" r="1.45"/><circle cx="518.1" cy="125.5" r="1.45"/><circle cx="514.3" cy="132.7" r="1.45"/><circle cx="525.5" cy="129.5" r="1.45"/><circle cx="524.2" cy="125.7" r="1.45"/><circle cx="514.5" cy="129.7" r="1.45"/><circle cx="515.8" cy="124.6" r="1.45"/><circle cx="518.6" cy="124.2" r="1.45"/><circle cx="520.1" cy="128.5" r="1.45"/><circle cx="523.2" cy="120.7" r="1.45"/><circle cx="516.3" cy="123.7" r="1.45"/><circle cx="515.0" cy="124.1" r="1.45"/><circle cx="515.1" cy="128.7" r="1.45"/><circle cx="521.6" cy="122.7" r="1.45"/><circle cx="521.0" cy="121.3" r="1.45"/><circle cx="516.3" cy="122.2" r="1.45"/><circle cx="523.7" cy="126.7" r="1.45"/><circle cx="514.9" cy="127.8" r="1.45"/><circle cx="520.0" cy="131.7" r="1.45"/><circle cx="518.6" cy="131.5" r="1.45"/><circle cx="518.5" cy="129.9" r="1.45"/><circle cx="521.5" cy="124.4" r="1.45"/><circle cx="524.7" cy="127.6" r="1.45"/><circle cx="518.3" cy="128.0" r="1.45"/><circle cx="525.0" cy="119.6" r="1.45"/><circle cx="524.2" cy="120.1" r="1.45"/><circle cx="517.6" cy="123.6" r="1.45"/><circle cx="514.0" cy="127.3" r="1.45"/><circle cx="515.6" cy="128.2" r="1.45"/><circle cx="520.4" cy="127.4" r="1.45"/><circle cx="516.3" cy="126.2" r="1.45"/><circle cx="518.4" cy="131.9" r="1.45"/><circle cx="519.4" cy="127.0" r="1.45"/><circle cx="514.9" cy="124.5" r="1.45"/><circle cx="525.1" cy="129.4" r="1.45"/><circle cx="523.8" cy="131.1" r="1.45"/><circle cx="524.4" cy="126.9" r="1.45"/><circle cx="515.7" cy="130.4" r="1.45"/><circle cx="520.6" cy="125.4" r="1.45"/><circle cx="524.7" cy="130.0" r="1.45"/><circle cx="523.5" cy="129.0" r="1.45"/><circle cx="521.5" cy="127.5" r="1.45"/><circle cx="519.6" cy="129.6" r="1.45"/><circle cx="524.6" cy="126.4" r="1.45"/><circle cx="521.0" cy="122.6" r="1.45"/><circle cx="518.8" cy="125.6" r="1.45"/><circle cx="516.5" cy="130.6" r="1.45"/><circle cx="516.9" cy="120.5" r="1.45"/><circle cx="518.7" cy="130.8" r="1.45"/><circle cx="522.5" cy="132.4" r="1.45"/><circle cx="513.5" cy="118.0" r="1.45"/><circle cx="523.0" cy="119.0" r="1.45"/><circle cx="513.5" cy="146.3" r="1.45"/><circle cx="515.5" cy="145.0" r="1.45"/><circle cx="517.5" cy="143.8" r="1.45"/><circle cx="519.5" cy="142.5" r="1.45"/><circle cx="521.5" cy="141.8" r="1.45"/><circle cx="523.5" cy="141.0" r="1.45"/><circle cx="525.0" cy="140.3" r="1.45"/><circle cx="521.5" cy="138.5" r="1.45"/><circle cx="523.1" cy="146.7" r="1.45"/><circle cx="523.3" cy="146.9" r="1.45"/><circle cx="576.0" cy="72.6" r="1.45"/><circle cx="576.1" cy="83.4" r="1.45"/><circle cx="582.2" cy="86.1" r="1.45"/><circle cx="575.6" cy="83.4" r="1.45"/><circle cx="580.8" cy="91.6" r="1.45"/><circle cx="578.2" cy="69.9" r="1.45"/><circle cx="583.2" cy="88.9" r="1.45"/><circle cx="582.4" cy="67.2" r="1.45"/><circle cx="577.6" cy="86.1" r="1.45"/><circle cx="580.6" cy="72.6" r="1.45"/><circle cx="582.1" cy="67.2" r="1.45"/><circle cx="576.2" cy="83.4" r="1.45"/><circle cx="578.7" cy="78.0" r="1.45"/><circle cx="575.0" cy="91.6" r="1.45"/><circle cx="585.3" cy="91.6" r="1.45"/><circle cx="575.1" cy="91.6" r="1.45"/><circle cx="583.8" cy="91.6" r="1.45"/><circle cx="574.5" cy="75.3" r="1.45"/><circle cx="576.2" cy="69.9" r="1.45"/><circle cx="576.9" cy="80.7" r="1.45"/><circle cx="581.9" cy="80.7" r="1.45"/><circle cx="578.7" cy="78.0" r="1.45"/><circle cx="574.7" cy="75.3" r="1.45"/><circle cx="579.3" cy="86.1" r="1.45"/><circle cx="579.8" cy="88.9" r="1.45"/><circle cx="577.4" cy="88.9" r="1.45"/><circle cx="580.1" cy="80.7" r="1.45"/><circle cx="582.1" cy="83.4" r="1.45"/><circle cx="585.2" cy="72.6" r="1.45"/><circle cx="579.3" cy="91.6" r="1.45"/><circle cx="581.5" cy="80.7" r="1.45"/><circle cx="577.4" cy="83.4" r="1.45"/><circle cx="581.8" cy="72.6" r="1.45"/><circle cx="575.7" cy="78.0" r="1.45"/><circle cx="583.8" cy="86.1" r="1.45"/><circle cx="578.6" cy="88.9" r="1.45"/><circle cx="584.9" cy="86.1" r="1.45"/><circle cx="582.2" cy="88.9" r="1.45"/><circle cx="577.1" cy="78.0" r="1.45"/><circle cx="577.3" cy="91.6" r="1.45"/><circle cx="581.4" cy="80.7" r="1.45"/><circle cx="577.2" cy="75.3" r="1.45"/><circle cx="581.5" cy="67.2" r="1.45"/><circle cx="574.6" cy="86.1" r="1.45"/><circle cx="579.6" cy="72.6" r="1.45"/><circle cx="581.2" cy="86.1" r="1.45"/><circle cx="585.7" cy="83.4" r="1.45"/><circle cx="585.7" cy="88.9" r="1.45"/><circle cx="574.8" cy="69.9" r="1.45"/><circle cx="574.5" cy="69.9" r="1.45"/><circle cx="582.3" cy="75.3" r="1.45"/><circle cx="586.2" cy="67.2" r="1.45"/><circle cx="582.0" cy="33.0" r="1.45"/><circle cx="586.5" cy="39.3" r="1.45"/><circle cx="584.0" cy="42.0" r="1.45"/><circle cx="583.5" cy="44.5" r="1.45"/><circle cx="575.0" cy="46.5" r="1.45"/><circle cx="577.0" cy="47.0" r="1.45"/><circle cx="579.0" cy="46.0" r="1.45"/><circle cx="581.0" cy="47.5" r="1.45"/><circle cx="583.0" cy="48.0" r="1.45"/><circle cx="576.0" cy="49.5" r="1.45"/><circle cx="578.0" cy="50.0" r="1.45"/><circle cx="580.0" cy="49.0" r="1.45"/><circle cx="582.0" cy="50.5" r="1.45"/><circle cx="577.5" cy="52.0" r="1.45"/><circle cx="579.5" cy="52.5" r="1.45"/><circle cx="575.5" cy="53.0" r="1.45"/><circle cx="581.5" cy="53.5" r="1.45"/><circle cx="579.5" cy="56.0" r="1.45"/><circle cx="585.0" cy="56.5" r="1.45"/><circle cx="584.5" cy="59.0" r="1.45"/><circle cx="581.0" cy="61.0" r="1.45"/><circle cx="578.0" cy="62.0" r="1.45"/><circle cx="583.0" cy="62.5" r="1.45"/><circle cx="579.0" cy="63.5" r="1.45"/><circle cx="575.0" cy="93.7" r="1.45"/><circle cx="577.0" cy="93.5" r="1.45"/><circle cx="579.0" cy="94.0" r="1.45"/><circle cx="581.0" cy="93.7" r="1.45"/><circle cx="583.0" cy="94.0" r="1.45"/><circle cx="577.0" cy="96.0" r="1.45"/><circle cx="579.0" cy="96.2" r="1.45"/><circle cx="577.5" cy="98.7" r="1.45"/><circle cx="586.0" cy="98.5" r="1.45"/><circle cx="577.0" cy="101.0" r="1.45"/><circle cx="577.3" cy="103.2" r="1.45"/><circle cx="581.0" cy="106.5" r="1.45"/><circle cx="583.0" cy="106.5" r="1.45"/><circle cx="585.3" cy="106.5" r="1.45"/><circle cx="585.7" cy="106.7" r="1.45"/><circle cx="578.0" cy="109.0" r="1.45"/><circle cx="578.5" cy="110.7" r="1.45"/><circle cx="579.5" cy="112.2" r="1.45"/><circle cx="584.0" cy="112.0" r="1.45"/><circle cx="580.5" cy="114.0" r="1.45"/><circle cx="576.5" cy="125.5" r="1.45"/><circle cx="577.0" cy="128.0" r="1.45"/><circle cx="577.0" cy="130.5" r="1.45"/><circle cx="577.5" cy="132.3" r="1.45"/><circle cx="637.7" cy="43.4" r="1.45"/><circle cx="640.2" cy="43.4" r="1.45"/><circle cx="641.3" cy="51.3" r="1.45"/><circle cx="646.3" cy="51.3" r="1.45"/><circle cx="639.4" cy="59.3" r="1.45"/><circle cx="645.3" cy="59.3" r="1.45"/><circle cx="645.9" cy="59.3" r="1.45"/><circle cx="636.5" cy="63.2" r="1.45"/><circle cx="640.3" cy="63.2" r="1.45"/><circle cx="645.0" cy="63.2" r="1.45"/><circle cx="646.0" cy="63.2" r="1.45"/><circle cx="637.5" cy="67.2" r="1.45"/><circle cx="640.5" cy="71.2" r="1.45"/><circle cx="644.5" cy="71.2" r="1.45"/><circle cx="647.3" cy="71.2" r="1.45"/><circle cx="640.3" cy="75.1" r="1.45"/><circle cx="646.5" cy="75.1" r="1.45"/><circle cx="636.5" cy="79.1" r="1.45"/><circle cx="638.0" cy="79.1" r="1.45"/><circle cx="639.6" cy="79.1" r="1.45"/><circle cx="641.0" cy="79.1" r="1.45"/><circle cx="642.5" cy="79.1" r="1.45"/><circle cx="644.0" cy="79.1" r="1.45"/><circle cx="636.0" cy="83.1" r="1.45"/><circle cx="637.6" cy="83.1" r="1.45"/><circle cx="639.2" cy="83.1" r="1.45"/><circle cx="640.8" cy="83.1" r="1.45"/><circle cx="642.4" cy="83.1" r="1.45"/><circle cx="644.3" cy="83.1" r="1.45"/><circle cx="646.0" cy="83.1" r="1.45"/><circle cx="639.0" cy="87.0" r="1.45"/><circle cx="640.5" cy="87.0" r="1.45"/><circle cx="642.0" cy="87.0" r="1.45"/><circle cx="643.5" cy="87.0" r="1.45"/><circle cx="645.0" cy="87.0" r="1.45"/><circle cx="638.0" cy="91.0" r="1.45"/><circle cx="639.4" cy="91.0" r="1.45"/><circle cx="641.0" cy="91.0" r="1.45"/><circle cx="642.6" cy="91.0" r="1.45"/><circle cx="644.4" cy="91.0" r="1.45"/><circle cx="646.0" cy="91.0" r="1.45"/><circle cx="647.0" cy="91.0" r="1.45"/><circle cx="636.5" cy="95.0" r="1.45"/><circle cx="638.0" cy="95.0" r="1.45"/><circle cx="641.0" cy="95.0" r="1.45"/><circle cx="643.0" cy="95.0" r="1.45"/><circle cx="647.0" cy="95.0" r="1.45"/><circle cx="636.8" cy="98.9" r="1.45"/><circle cx="638.2" cy="98.9" r="1.45"/><circle cx="639.6" cy="98.9" r="1.45"/><circle cx="641.0" cy="98.9" r="1.45"/><circle cx="642.4" cy="98.9" r="1.45"/><circle cx="643.8" cy="98.9" r="1.45"/><circle cx="645.2" cy="98.9" r="1.45"/><circle cx="646.6" cy="98.9" r="1.45"/><circle cx="640.2" cy="98.9" r="1.45"/><circle cx="644.4" cy="98.9" r="1.45"/><circle cx="639.5" cy="102.9" r="1.45"/><circle cx="640.4" cy="102.9" r="1.45"/><circle cx="640.8" cy="102.9" r="1.45"/><circle cx="644.0" cy="102.9" r="1.45"/><circle cx="647.0" cy="102.9" r="1.45"/><circle cx="636.5" cy="106.9" r="1.45"/><circle cx="642.5" cy="106.9" r="1.45"/><circle cx="645.5" cy="106.9" r="1.45"/><circle cx="646.0" cy="106.9" r="1.45"/><circle cx="646.3" cy="106.9" r="1.45"/><circle cx="635.5" cy="110.8" r="1.45"/><circle cx="637.0" cy="110.8" r="1.45"/><circle cx="639.0" cy="110.8" r="1.45"/><circle cx="641.5" cy="110.8" r="1.45"/><circle cx="643.0" cy="110.8" r="1.45"/><circle cx="647.0" cy="110.8" r="1.45"/><circle cx="635.7" cy="114.8" r="1.45"/><circle cx="636.0" cy="114.8" r="1.45"/><circle cx="636.3" cy="114.8" r="1.45"/><circle cx="642.0" cy="114.8" r="1.45"/><circle cx="638.5" cy="118.8" r="1.45"/><circle cx="640.0" cy="118.8" r="1.45"/><circle cx="642.0" cy="118.8" r="1.45"/><circle cx="644.0" cy="118.8" r="1.45"/><circle cx="646.5" cy="118.8" r="1.45"/><circle cx="635.5" cy="122.7" r="1.45"/><circle cx="636.2" cy="122.7" r="1.45"/><circle cx="636.5" cy="122.7" r="1.45"/><circle cx="635.5" cy="126.7" r="1.45"/><circle cx="637.0" cy="126.7" r="1.45"/><circle cx="639.0" cy="126.7" r="1.45"/><circle cx="640.5" cy="126.7" r="1.45"/><circle cx="637.5" cy="130.7" r="1.45"/><circle cx="644.0" cy="130.7" r="1.45"/><circle cx="647.0" cy="130.7" r="1.45"/><circle cx="645.5" cy="138.6" r="1.45"/><circle cx="646.5" cy="142.6" r="1.45"/><circle cx="644.3" cy="146.6" r="1.45"/><circle cx="465.3" cy="173.0" r="1.45"/><circle cx="464.8" cy="171.9" r="1.45"/><circle cx="464.4" cy="172.3" r="1.45"/><circle cx="465.0" cy="172.2" r="1.45"/><circle cx="453.3" cy="172.7" r="1.45"/><circle cx="455.1" cy="173.2" r="1.45"/><circle cx="458.1" cy="171.8" r="1.45"/><circle cx="454.1" cy="172.6" r="1.45"/><circle cx="460.0" cy="171.9" r="1.45"/><circle cx="457.8" cy="172.8" r="1.45"/><circle cx="455.2" cy="173.4" r="1.45"/><circle cx="454.3" cy="173.8" r="1.45"/><circle cx="457.1" cy="173.1" r="1.45"/><circle cx="466.4" cy="171.8" r="1.45"/><circle cx="454.0" cy="172.5" r="1.45"/><circle cx="461.8" cy="172.5" r="1.45"/><circle cx="463.7" cy="172.9" r="1.45"/><circle cx="459.0" cy="172.9" r="1.45"/><circle cx="463.9" cy="172.6" r="1.45"/><circle cx="465.3" cy="172.7" r="1.45"/><circle cx="461.7" cy="172.6" r="1.45"/><circle cx="456.6" cy="172.7" r="1.45"/><circle cx="455.3" cy="172.3" r="1.45"/><circle cx="466.1" cy="172.4" r="1.45"/><circle cx="460.4" cy="172.2" r="1.45"/><circle cx="463.7" cy="172.1" r="1.45"/><circle cx="461.0" cy="172.9" r="1.45"/><circle cx="457.9" cy="172.6" r="1.45"/><circle cx="456.9" cy="171.7" r="1.45"/><circle cx="454.4" cy="172.5" r="1.45"/><circle cx="464.5" cy="172.4" r="1.45"/><circle cx="458.7" cy="172.0" r="1.45"/><circle cx="455.5" cy="173.5" r="1.45"/><circle cx="457.5" cy="173.5" r="1.45"/><circle cx="457.5" cy="173.3" r="1.45"/><circle cx="454.7" cy="172.9" r="1.45"/><circle cx="459.4" cy="172.9" r="1.45"/><circle cx="463.3" cy="172.9" r="1.45"/><circle cx="455.7" cy="172.3" r="1.45"/><circle cx="455.3" cy="172.9" r="1.45"/><circle cx="454.2" cy="172.2" r="1.45"/><circle cx="453.3" cy="172.0" r="1.45"/><circle cx="457.8" cy="172.4" r="1.45"/><circle cx="463.4" cy="172.8" r="1.45"/><circle cx="462.7" cy="172.5" r="1.45"/><circle cx="455.1" cy="173.2" r="1.45"/><circle cx="457.5" cy="172.8" r="1.45"/><circle cx="464.1" cy="172.4" r="1.45"/><circle cx="453.0" cy="172.3" r="1.45"/><circle cx="459.4" cy="172.8" r="1.45"/><circle cx="461.6" cy="172.0" r="1.45"/><circle cx="456.2" cy="172.7" r="1.45"/><circle cx="464.7" cy="172.8" r="1.45"/><circle cx="462.7" cy="172.5" r="1.45"/><circle cx="463.1" cy="173.6" r="1.45"/><circle cx="458.4" cy="172.6" r="1.45"/><circle cx="461.9" cy="172.8" r="1.45"/><circle cx="460.2" cy="173.4" r="1.45"/><circle cx="465.5" cy="172.7" r="1.45"/><circle cx="457.4" cy="171.8" r="1.45"/><circle cx="463.9" cy="172.5" r="1.45"/><circle cx="460.3" cy="172.8" r="1.45"/><circle cx="462.8" cy="172.2" r="1.45"/><circle cx="459.9" cy="172.5" r="1.45"/><circle cx="462.2" cy="172.9" r="1.45"/><circle cx="459.9" cy="172.7" r="1.45"/><circle cx="457.8" cy="172.1" r="1.45"/><circle cx="452.9" cy="172.3" r="1.45"/><circle cx="455.1" cy="172.8" r="1.45"/><circle cx="459.8" cy="172.4" r="1.45"/><circle cx="465.3" cy="172.6" r="1.45"/><circle cx="462.7" cy="173.1" r="1.45"/><circle cx="455.5" cy="172.4" r="1.45"/><circle cx="458.8" cy="171.5" r="1.45"/><circle cx="464.7" cy="173.1" r="1.45"/><circle cx="459.8" cy="172.4" r="1.45"/><circle cx="455.9" cy="172.2" r="1.45"/><circle cx="456.5" cy="171.6" r="1.45"/><circle cx="456.4" cy="173.3" r="1.45"/><circle cx="456.9" cy="172.4" r="1.45"/><circle cx="456.2" cy="173.0" r="1.45"/><circle cx="463.5" cy="172.8" r="1.45"/><circle cx="459.8" cy="172.3" r="1.45"/><circle cx="466.4" cy="173.8" r="1.45"/><circle cx="465.4" cy="172.6" r="1.45"/><circle cx="453.2" cy="171.6" r="1.45"/><circle cx="462.9" cy="171.7" r="1.45"/><circle cx="458.2" cy="172.7" r="1.45"/><circle cx="458.5" cy="172.6" r="1.45"/><circle cx="466.6" cy="172.3" r="1.45"/><circle cx="454.3" cy="173.7" r="1.45"/><circle cx="458.3" cy="173.9" r="1.45"/><circle cx="455.6" cy="173.0" r="1.45"/><circle cx="459.0" cy="172.1" r="1.45"/><circle cx="463.6" cy="172.3" r="1.45"/><circle cx="456.5" cy="172.4" r="1.45"/><circle cx="455.8" cy="172.7" r="1.45"/><circle cx="466.7" cy="174.0" r="1.45"/><circle cx="466.6" cy="173.6" r="1.45"/><circle cx="455.9" cy="172.5" r="1.45"/><circle cx="523.6" cy="182.9" r="1.45"/><circle cx="524.9" cy="181.0" r="1.45"/><circle cx="526.9" cy="175.1" r="1.45"/><circle cx="521.5" cy="178.4" r="1.45"/><circle cx="527.3" cy="176.5" r="1.45"/><circle cx="519.8" cy="175.5" r="1.45"/><circle cx="522.6" cy="176.3" r="1.45"/><circle cx="524.0" cy="176.6" r="1.45"/><circle cx="520.1" cy="177.5" r="1.45"/><circle cx="522.8" cy="177.1" r="1.45"/><circle cx="526.0" cy="181.8" r="1.45"/><circle cx="515.9" cy="178.9" r="1.45"/><circle cx="517.8" cy="177.5" r="1.45"/><circle cx="526.7" cy="174.9" r="1.45"/><circle cx="521.0" cy="179.6" r="1.45"/><circle cx="519.6" cy="179.0" r="1.45"/><circle cx="516.5" cy="176.9" r="1.45"/><circle cx="523.0" cy="179.4" r="1.45"/><circle cx="522.4" cy="176.6" r="1.45"/><circle cx="523.1" cy="182.0" r="1.45"/><circle cx="516.8" cy="182.2" r="1.45"/><circle cx="521.4" cy="178.8" r="1.45"/><circle cx="524.6" cy="177.2" r="1.45"/><circle cx="515.6" cy="182.4" r="1.45"/><circle cx="515.6" cy="175.6" r="1.45"/><circle cx="521.4" cy="174.3" r="1.45"/><circle cx="514.2" cy="173.3" r="1.45"/><circle cx="518.7" cy="173.1" r="1.45"/><circle cx="517.5" cy="179.8" r="1.45"/><circle cx="517.8" cy="183.4" r="1.45"/><circle cx="520.1" cy="177.2" r="1.45"/><circle cx="518.2" cy="178.3" r="1.45"/><circle cx="524.3" cy="176.8" r="1.45"/><circle cx="517.6" cy="177.8" r="1.45"/><circle cx="522.7" cy="180.4" r="1.45"/><circle cx="520.2" cy="179.9" r="1.45"/><circle cx="517.6" cy="174.6" r="1.45"/><circle cx="516.0" cy="176.0" r="1.45"/><circle cx="522.3" cy="176.1" r="1.45"/><circle cx="524.3" cy="179.1" r="1.45"/><circle cx="515.5" cy="177.8" r="1.45"/><circle cx="514.8" cy="174.4" r="1.45"/><circle cx="518.7" cy="177.9" r="1.45"/><circle cx="524.5" cy="177.3" r="1.45"/><circle cx="526.8" cy="175.3" r="1.45"/><circle cx="520.8" cy="179.3" r="1.45"/><circle cx="525.9" cy="177.7" r="1.45"/><circle cx="514.3" cy="175.8" r="1.45"/><circle cx="519.9" cy="176.8" r="1.45"/><circle cx="525.9" cy="179.5" r="1.45"/><circle cx="524.9" cy="176.3" r="1.45"/><circle cx="524.2" cy="176.7" r="1.45"/><circle cx="520.7" cy="178.2" r="1.45"/><circle cx="524.7" cy="176.2" r="1.45"/><circle cx="526.5" cy="178.2" r="1.45"/><circle cx="527.0" cy="179.5" r="1.45"/><circle cx="514.5" cy="178.0" r="1.45"/><circle cx="525.1" cy="180.2" r="1.45"/><circle cx="523.2" cy="176.9" r="1.45"/><circle cx="519.0" cy="179.2" r="1.45"/><circle cx="514.6" cy="179.5" r="1.45"/><circle cx="523.4" cy="176.2" r="1.45"/><circle cx="515.6" cy="183.1" r="1.45"/><circle cx="522.9" cy="177.0" r="1.45"/><circle cx="524.5" cy="176.4" r="1.45"/><circle cx="516.3" cy="178.5" r="1.45"/><circle cx="516.2" cy="179.1" r="1.45"/><circle cx="521.1" cy="181.4" r="1.45"/><circle cx="521.7" cy="182.6" r="1.45"/><circle cx="522.5" cy="177.4" r="1.45"/><circle cx="526.3" cy="175.7" r="1.45"/><circle cx="520.1" cy="181.6" r="1.45"/><circle cx="519.1" cy="176.5" r="1.45"/><circle cx="522.1" cy="173.9" r="1.45"/><circle cx="524.5" cy="175.9" r="1.45"/><circle cx="517.4" cy="178.7" r="1.45"/><circle cx="514.3" cy="178.6" r="1.45"/><circle cx="525.3" cy="178.9" r="1.45"/><circle cx="527.2" cy="175.2" r="1.45"/><circle cx="518.3" cy="177.4" r="1.45"/><circle cx="522.8" cy="174.1" r="1.45"/><circle cx="522.2" cy="179.7" r="1.45"/><circle cx="514.4" cy="173.5" r="1.45"/><circle cx="526.1" cy="173.7" r="1.45"/><circle cx="514.4" cy="180.1" r="1.45"/><circle cx="519.2" cy="180.8" r="1.45"/><circle cx="522.0" cy="177.6" r="1.45"/><circle cx="516.3" cy="180.0" r="1.45"/><circle cx="515.4" cy="176.3" r="1.45"/><circle cx="518.9" cy="174.8" r="1.45"/><circle cx="515.0" cy="180.7" r="1.45"/><circle cx="521.2" cy="178.0" r="1.45"/><circle cx="517.9" cy="178.1" r="1.45"/><circle cx="514.5" cy="177.7" r="1.45"/><circle cx="522.5" cy="178.4" r="1.45"/><circle cx="527.1" cy="177.1" r="1.45"/><circle cx="515.0" cy="180.5" r="1.45"/><circle cx="521.8" cy="178.7" r="1.45"/><circle cx="521.9" cy="179.3" r="1.45"/><circle cx="519.9" cy="181.2" r="1.45"/><circle cx="582.4" cy="181.1" r="1.45"/><circle cx="576.8" cy="183.2" r="1.45"/><circle cx="575.3" cy="188.6" r="1.45"/><circle cx="575.8" cy="179.9" r="1.45"/><circle cx="584.1" cy="195.4" r="1.45"/><circle cx="582.8" cy="183.8" r="1.45"/><circle cx="574.8" cy="180.7" r="1.45"/><circle cx="585.1" cy="177.9" r="1.45"/><circle cx="575.3" cy="194.2" r="1.45"/><circle cx="582.7" cy="185.0" r="1.45"/><circle cx="582.0" cy="175.1" r="1.45"/><circle cx="585.8" cy="179.3" r="1.45"/><circle cx="574.8" cy="186.3" r="1.45"/><circle cx="575.3" cy="175.8" r="1.45"/><circle cx="584.0" cy="187.0" r="1.45"/><circle cx="576.3" cy="189.9" r="1.45"/><circle cx="583.6" cy="172.3" r="1.45"/><circle cx="581.4" cy="178.9" r="1.45"/><circle cx="583.5" cy="183.6" r="1.45"/><circle cx="581.2" cy="189.1" r="1.45"/><circle cx="579.4" cy="173.9" r="1.45"/><circle cx="577.1" cy="180.3" r="1.45"/><circle cx="583.7" cy="190.2" r="1.45"/><circle cx="583.9" cy="177.2" r="1.45"/><circle cx="585.3" cy="175.5" r="1.45"/><circle cx="582.0" cy="180.1" r="1.45"/><circle cx="579.5" cy="174.7" r="1.45"/><circle cx="581.8" cy="191.2" r="1.45"/><circle cx="584.5" cy="188.2" r="1.45"/><circle cx="583.0" cy="184.3" r="1.45"/><circle cx="578.3" cy="174.3" r="1.45"/><circle cx="577.6" cy="173.1" r="1.45"/><circle cx="578.2" cy="187.5" r="1.45"/><circle cx="585.3" cy="185.4" r="1.45"/><circle cx="577.4" cy="182.8" r="1.45"/><circle cx="578.4" cy="195.8" r="1.45"/><circle cx="578.8" cy="190.6" r="1.45"/><circle cx="576.1" cy="182.2" r="1.45"/><circle cx="581.2" cy="177.5" r="1.45"/><circle cx="575.1" cy="176.5" r="1.45"/><circle cx="585.7" cy="194.6" r="1.45"/><circle cx="579.3" cy="179.7" r="1.45"/><circle cx="581.0" cy="172.7" r="1.45"/><circle cx="574.8" cy="182.4" r="1.45"/><circle cx="582.7" cy="195.0" r="1.45"/><circle cx="576.0" cy="176.9" r="1.45"/><circle cx="584.4" cy="184.1" r="1.45"/><circle cx="581.1" cy="176.2" r="1.45"/><circle cx="580.1" cy="179.5" r="1.45"/><circle cx="582.8" cy="186.1" r="1.45"/><circle cx="582.1" cy="186.8" r="1.45"/><circle cx="577.5" cy="185.7" r="1.45"/><circle cx="578.8" cy="188.8" r="1.45"/><circle cx="582.4" cy="189.6" r="1.45"/><circle cx="585.3" cy="179.1" r="1.45"/><circle cx="583.6" cy="193.0" r="1.45"/><circle cx="583.6" cy="192.3" r="1.45"/><circle cx="575.2" cy="183.4" r="1.45"/><circle cx="576.5" cy="187.9" r="1.45"/><circle cx="575.5" cy="187.2" r="1.45"/><circle cx="579.9" cy="185.2" r="1.45"/><circle cx="579.6" cy="189.3" r="1.45"/><circle cx="583.0" cy="187.7" r="1.45"/><circle cx="575.6" cy="181.8" r="1.45"/><circle cx="580.2" cy="188.4" r="1.45"/><circle cx="579.7" cy="178.2" r="1.45"/><circle cx="578.0" cy="193.8" r="1.45"/><circle cx="578.1" cy="173.5" r="1.45"/><circle cx="579.1" cy="178.7" r="1.45"/><circle cx="581.1" cy="193.4" r="1.45"/><circle cx="585.7" cy="181.6" r="1.45"/><circle cx="576.0" cy="181.4" r="1.45"/><circle cx="583.0" cy="183.0" r="1.45"/><circle cx="578.8" cy="171.5" r="1.45"/><circle cx="584.6" cy="182.0" r="1.45"/><circle cx="574.8" cy="186.6" r="1.45"/><circle cx="576.4" cy="180.5" r="1.45"/><circle cx="585.4" cy="192.7" r="1.45"/><circle cx="581.8" cy="184.8" r="1.45"/><circle cx="575.6" cy="184.5" r="1.45"/><circle cx="574.7" cy="180.9" r="1.45"/><circle cx="585.6" cy="185.9" r="1.45"/><circle cx="582.0" cy="190.9" r="1.45"/><circle cx="582.8" cy="182.6" r="1.45"/><circle cx="579.4" cy="191.6" r="1.45"/><circle cx="574.8" cy="178.4" r="1.45"/><circle cx="584.0" cy="171.9" r="1.45"/><circle cx="579.0" cy="191.9" r="1.45"/><circle cx="574.5" cy="199.0" r="1.45"/><circle cx="575.5" cy="202.0" r="1.45"/><circle cx="578.0" cy="205.0" r="1.45"/><circle cx="580.0" cy="204.0" r="1.45"/><circle cx="583.0" cy="200.0" r="1.45"/><circle cx="576.0" cy="208.0" r="1.45"/><circle cx="575.5" cy="212.0" r="1.45"/><circle cx="580.5" cy="211.5" r="1.45"/><circle cx="582.5" cy="197.0" r="1.45"/><circle cx="585.0" cy="198.5" r="1.45"/><circle cx="579.0" cy="201.0" r="1.45"/><circle cx="584.0" cy="203.5" r="1.45"/><circle cx="581.5" cy="207.5" r="1.45"/><circle cx="577.0" cy="196.5" r="1.45"/><circle cx="586.0" cy="230.4" r="1.45"/><circle cx="582.0" cy="289.5" r="1.45"/><circle cx="636.4" cy="176.7" r="1.45"/><circle cx="647.1" cy="181.3" r="1.45"/><circle cx="641.0" cy="173.4" r="1.45"/><circle cx="636.9" cy="180.9" r="1.45"/><circle cx="643.5" cy="176.4" r="1.45"/><circle cx="642.1" cy="176.1" r="1.45"/><circle cx="635.8" cy="175.8" r="1.45"/><circle cx="638.9" cy="185.6" r="1.45"/><circle cx="647.6" cy="174.5" r="1.45"/><circle cx="637.3" cy="177.0" r="1.45"/><circle cx="639.1" cy="177.3" r="1.45"/><circle cx="640.4" cy="176.6" r="1.45"/><circle cx="637.3" cy="188.2" r="1.45"/><circle cx="643.6" cy="179.0" r="1.45"/><circle cx="645.7" cy="186.1" r="1.45"/><circle cx="646.0" cy="184.3" r="1.45"/><circle cx="636.3" cy="171.7" r="1.45"/><circle cx="638.7" cy="179.6" r="1.45"/><circle cx="647.2" cy="183.9" r="1.45"/><circle cx="634.8" cy="177.8" r="1.45"/><circle cx="644.2" cy="189.3" r="1.45"/><circle cx="640.6" cy="175.2" r="1.45"/><circle cx="643.1" cy="176.2" r="1.45"/><circle cx="635.5" cy="183.5" r="1.45"/><circle cx="644.2" cy="180.7" r="1.45"/><circle cx="646.3" cy="182.1" r="1.45"/><circle cx="642.5" cy="172.0" r="1.45"/><circle cx="634.7" cy="174.7" r="1.45"/><circle cx="643.6" cy="180.5" r="1.45"/><circle cx="636.5" cy="180.2" r="1.45"/><circle cx="640.1" cy="174.1" r="1.45"/><circle cx="640.4" cy="183.1" r="1.45"/><circle cx="647.7" cy="176.8" r="1.45"/><circle cx="646.8" cy="177.4" r="1.45"/><circle cx="647.4" cy="174.2" r="1.45"/><circle cx="647.2" cy="181.8" r="1.45"/><circle cx="634.9" cy="178.5" r="1.45"/><circle cx="643.0" cy="171.3" r="1.45"/><circle cx="636.2" cy="180.4" r="1.45"/><circle cx="637.0" cy="174.8" r="1.45"/><circle cx="646.3" cy="173.2" r="1.45"/><circle cx="644.8" cy="179.4" r="1.45"/><circle cx="634.3" cy="180.6" r="1.45"/><circle cx="639.4" cy="170.7" r="1.45"/><circle cx="637.7" cy="177.2" r="1.45"/><circle cx="634.4" cy="172.6" r="1.45"/><circle cx="634.7" cy="177.1" r="1.45"/><circle cx="636.1" cy="182.8" r="1.45"/><circle cx="637.8" cy="179.8" r="1.45"/><circle cx="646.3" cy="175.1" r="1.45"/><circle cx="635.6" cy="171.0" r="1.45"/><circle cx="637.2" cy="181.6" r="1.45"/><circle cx="634.6" cy="172.8" r="1.45"/><circle cx="636.2" cy="178.6" r="1.45"/><circle cx="635.6" cy="179.5" r="1.45"/><circle cx="640.8" cy="186.6" r="1.45"/><circle cx="643.0" cy="184.7" r="1.45"/><circle cx="648.0" cy="173.0" r="1.45"/><circle cx="643.2" cy="178.2" r="1.45"/><circle cx="634.9" cy="174.9" r="1.45"/><circle cx="635.0" cy="188.7" r="1.45"/><circle cx="636.7" cy="174.8" r="1.45"/><circle cx="639.0" cy="172.2" r="1.45"/><circle cx="638.3" cy="179.1" r="1.45"/><circle cx="647.4" cy="175.3" r="1.45"/><circle cx="646.6" cy="182.4" r="1.45"/><circle cx="645.2" cy="177.9" r="1.45"/><circle cx="648.0" cy="176.9" r="1.45"/><circle cx="635.3" cy="174.8" r="1.45"/><circle cx="635.1" cy="175.5" r="1.45"/><circle cx="645.1" cy="173.9" r="1.45"/><circle cx="647.6" cy="175.9" r="1.45"/><circle cx="634.7" cy="181.1" r="1.45"/><circle cx="640.9" cy="180.0" r="1.45"/><circle cx="642.0" cy="175.0" r="1.45"/><circle cx="641.4" cy="172.4" r="1.45"/><circle cx="642.4" cy="179.2" r="1.45"/><circle cx="640.5" cy="185.2" r="1.45"/><circle cx="637.8" cy="173.8" r="1.45"/><circle cx="644.7" cy="178.7" r="1.45"/><circle cx="648.0" cy="178.3" r="1.45"/><circle cx="647.5" cy="176.3" r="1.45"/><circle cx="642.1" cy="173.6" r="1.45"/><circle cx="647.3" cy="178.8" r="1.45"/><circle cx="642.5" cy="175.6" r="1.45"/><circle cx="637.7" cy="174.6" r="1.45"/><circle cx="639.7" cy="176.5" r="1.45"/><circle cx="637.8" cy="176.0" r="1.45"/><circle cx="637.5" cy="180.3" r="1.45"/><circle cx="643.0" cy="187.1" r="1.45"/><circle cx="645.2" cy="171.5" r="1.45"/><circle cx="636.2" cy="187.6" r="1.45"/><circle cx="646.9" cy="175.4" r="1.45"/><circle cx="646.8" cy="177.5" r="1.45"/><circle cx="645.9" cy="177.7" r="1.45"/><circle cx="639.7" cy="175.7" r="1.45"/><circle cx="645.6" cy="174.4" r="1.45"/><circle cx="644.1" cy="178.1" r="1.45"/><circle cx="644.9" cy="174.3" r="1.45"/><circle cx="635.9" cy="179.9" r="1.45"/><circle cx="640.0" cy="192.4" r="1.45"/><circle cx="640.3" cy="195.6" r="1.45"/></g>
<g class="labels"><text class="tk" text-anchor="end" x="46.4" y="27.0">1.0</text><text class="tk" text-anchor="end" x="46.4" y="105.0">0.8</text><text class="tk" text-anchor="end" x="46.4" y="184.0">0.6</text><text class="tk" text-anchor="end" x="46.4" y="263.0">0.4</text><text class="tk" text-anchor="end" x="413.6" y="27.5">0.8</text><text class="tk" text-anchor="end" x="413.6" y="59.9">0.6</text><text class="tk" text-anchor="end" x="413.6" y="92.5">0.4</text><text class="tk" text-anchor="end" x="413.6" y="124.9">0.2</text><text class="tk" text-anchor="end" x="413.6" y="174.9">1.00</text><text class="tk" text-anchor="end" x="413.6" y="199.7">0.95</text><text class="tk" text-anchor="end" x="413.6" y="224.5">0.90</text><text class="tk" text-anchor="end" x="413.6" y="249.2">0.85</text><text class="tk" text-anchor="end" x="413.6" y="274.0">0.80</text><text class="tk" text-anchor="end" x="413.6" y="298.8">0.75</text><text class="tk" text-anchor="middle" x="93.5" y="306.75">Link</text><text class="tk" text-anchor="middle" x="93.5" y="316.60">prediction</text><text class="tk" text-anchor="middle" x="157.3" y="306.75">Link prediction</text><text class="tk" text-anchor="middle" x="157.3" y="316.60">trained only on</text><text class="tk" text-anchor="middle" x="157.3" y="326.95">host traits</text><text class="tk" text-anchor="middle" x="223.5" y="306.75">Host</text><text class="tk" text-anchor="middle" x="223.5" y="316.60">exposure</text><text class="tk" text-anchor="middle" x="287.1" y="306.75">Susceptible</text><text class="tk" text-anchor="middle" x="287.1" y="316.60">host</text><text class="tk" text-anchor="middle" x="457.9" y="306.75">Link</text><text class="tk" text-anchor="middle" x="457.9" y="316.60">prediction</text><text class="tk" text-anchor="middle" x="521.5" y="306.75">Link prediction</text><text class="tk" text-anchor="middle" x="521.5" y="316.60">trained only on</text><text class="tk" text-anchor="middle" x="521.5" y="326.95">host traits</text><text class="tk" text-anchor="middle" x="582.1" y="306.75">Host</text><text class="tk" text-anchor="middle" x="582.1" y="316.60">exposure</text><text class="tk" text-anchor="middle" x="643.2" y="306.75">Susceptible</text><text class="tk" text-anchor="middle" x="643.2" y="316.60">host</text><text class="ti" text-anchor="middle" x="189.5" y="354.4">Model</text><text class="ti" text-anchor="middle" x="550.7" y="354.4">Model</text><text class="ti" text-anchor="middle" transform="translate(18.3,151.1) rotate(-90)">Area under the curve (AUC)</text><text class="ti" text-anchor="middle" transform="translate(380.9,92.1) rotate(-90)">Sensitivity</text><text class="ti" text-anchor="middle" transform="translate(380.9,234.2) rotate(-90)">Specificity</text><text class="pl" x="0.5" y="7">a</text><text class="pl" x="357.6" y="9">b</text><text class="pl" x="357.8" y="164.5">c</text></g>
</svg>
</body></html>
